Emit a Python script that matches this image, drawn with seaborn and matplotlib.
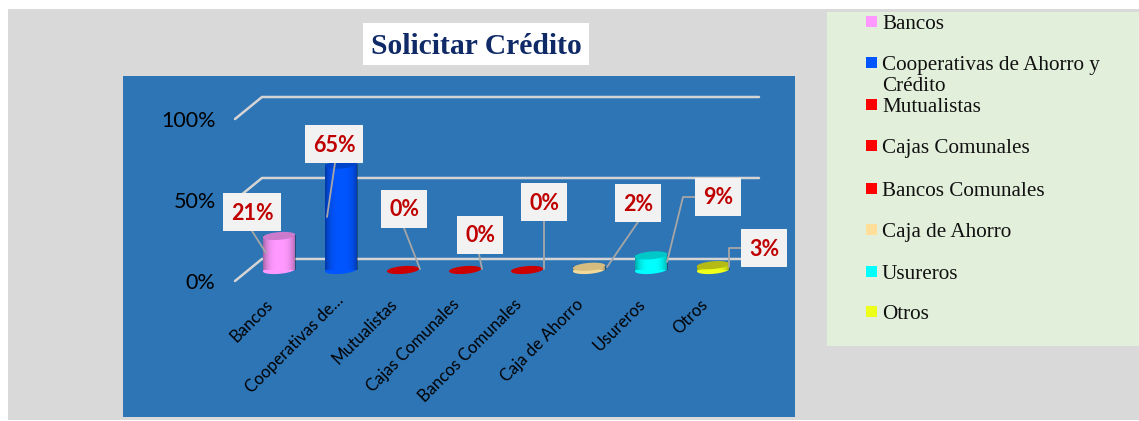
import numpy as np
import pandas as pd
import matplotlib.pyplot as plt
import seaborn as sns
from matplotlib.patches import Rectangle
from matplotlib.lines import Line2D
from matplotlib.transforms import ScaledTranslation

# datos del grafico
categorias = ['Bancos', 'Cooperativas de…', 'Mutualistas', 'Cajas Comunales',
              'Bancos Comunales', 'Caja de Ahorro', 'Usureros', 'Otros']
leyenda = ['Bancos', 'Cooperativas de Ahorro y\nCrédito', 'Mutualistas', 'Cajas Comunales',
           'Bancos Comunales', 'Caja de Ahorro', 'Usureros', 'Otros']
valores = [21, 65, 0, 0, 0, 2, 9, 3]
grid_vals = [0, 50, 100]

colores = ['#ff99ff', '#0055ff', '#ff0000', '#ff0000', '#ff0000', '#ffdf99', '#00ffff', '#eeff1a']
cuerpo = ['#ff99ff', '#0055ff', '#cc0000', '#cc0000', '#cc0000', '#f3d998', '#00ffff', '#eeff1a']
tapa = ['#cc7acc', '#0044cc', '#cc0000', '#cc0000', '#cc0000', '#d4bd7e', '#00c8c8', '#b5bb14']

W, H = 1139, 421
AZUL = '#2e75b6'
GRIS = '#a6a6a6'

# posiciones de etiquetas en pixeles
cajas = [(223, 193, 58), (305, 125, 58), (381, 190, 46), (457, 216, 46),
         (521, 183, 46), (615, 184, 46), (695, 178, 46), (741, 229, 46)]
lineas = [[(252, 231), (266, 253)],
          [(335, 163), (327, 217)],
          [(404, 228), (420, 269)],
          [(479, 254), (482, 269)],
          [(544, 221), (544, 269)],
          [(638, 222), (607, 267)],
          [(695, 197), (683, 197), (667, 262)],
          [(741, 248), (729, 248), (729, 267)]]
leyenda_y = [22, 63, 105, 146, 189, 230, 272, 312]
# desplazamiento de cada etiqueta del eje x, en pixeles
ajuste_x = [-14, -6, -14, -14, -14, -14, -14, -14]
ajuste_y = [0, 4, 0, 0, 0, 0, 0, 0]


def fx(x):
    return x / W


def fy(y):
    return 1 - y / H


def rect_px(x0, y0, x1, y1, color, zorder=0):
    fig.add_artist(Rectangle((fx(x0), fy(y1)), (x1 - x0) / W, (y1 - y0) / H, transform=fig.transFigure,
                             facecolor=color, edgecolor='none', zorder=zorder))


sns.set_theme(style='white')
plt.rcParams['font.family'] = ['Lato', 'DejaVu Sans']

fig = plt.figure(figsize=(W / 100, H / 100), dpi=100, facecolor='white')

# fondos
rect_px(8, 9, 1139, 420, '#d9d9d9', -3)
rect_px(123, 76, 795, 417, AZUL, -2)
rect_px(827, 12, 1139, 346, '#e2efda', -2)
rect_px(363, 23, 589, 65, 'white', -2)

ax = fig.add_axes([fx(235), fy(281), (759 - 235) / W, (281 - 97) / H])
ax.patch.set_alpha(0)

df = pd.DataFrame({'categoria': categorias, 'valor': valores})
sns.barplot(data=df, x='categoria', y='valor', hue='categoria', palette=cuerpo, hue_order=categorias,
            width=0.52, saturation=1, legend=False, linewidth=0, ax=ax)

xlim = (-0.71, 7.74)
ylim = (-6.8, 106.8)
fondo = 6.8

# rejilla con perspectiva
for v in grid_vals:
    ax.plot([xlim[0], xlim[0] + 0.435, xlim[1]], [v - fondo, v + fondo, v + fondo],
            color='#d4d4d4', lw=1.8, zorder=0.5, clip_on=False, solid_capstyle='round')

# cilindros: sombra lateral y elipses
t = np.linspace(0, 2 * np.pi, 80)
sombra = np.zeros((1, 60, 4))
sombra[0, :, 3] = 0.35 * np.abs(np.linspace(-1, 1, 60)) ** 3
for i, v in enumerate(valores):
    ex = i + 0.26 * np.cos(t)
    base = 2.4 * np.sin(t) + 0.8 * np.cos(t)
    if v > 0:
        ax.fill(ex, base, color=cuerpo[i], lw=0, zorder=2, clip_on=False)
        ax.imshow(sombra, extent=[i - 0.26, i + 0.26, 0, v], aspect='auto', zorder=3, clip_on=False)
    ax.fill(ex, base + v, color=tapa[i], lw=0, zorder=4, clip_on=False)

ax.set_xlim(xlim)
ax.set_ylim(ylim)
sns.despine(ax=ax, left=True, bottom=True, top=True, right=True)
ax.set_xlabel('')
ax.set_ylabel('')
ax.set_yticks([v - fondo for v in grid_vals])
ax.set_yticklabels([f'{v}%' for v in grid_vals], fontsize=15.5, color='black')
ax.set_xticks(range(len(categorias)))
ax.set_xticklabels(categorias, fontsize=12, color='black', rotation=45, ha='right', va='top',
                   rotation_mode='anchor')
ax.tick_params(axis='y', length=0, pad=14)
ax.tick_params(axis='x', length=0, pad=11)
for etiqueta, dx, dy in zip(ax.get_xticklabels(), ajuste_x, ajuste_y):
    desplaza = ScaledTranslation(dx / 100, dy / 100, fig.dpi_scale_trans)
    etiqueta.set_transform(etiqueta.get_transform() + desplaza)

# lineas guia y etiquetas
for puntos in lineas:
    xs = [fx(p[0]) for p in puntos]
    ys = [fy(p[1]) for p in puntos]
    fig.add_artist(Line2D(xs, ys, color=GRIS, lw=1.3, zorder=5))
for (x, y, w), v in zip(cajas, valores):
    rect_px(x, y, x + w, y + 38, '#f2f2f2', 6)
    fig.text(fx(x + w / 2), fy(y + 20), f'{v}%', color='#c00000', fontsize=15.5, fontweight='bold',
             ha='center', va='center', zorder=7)

# titulo
fig.text(fx(476), fy(46), 'Solicitar Crédito', family='Liberation Serif', fontweight='bold',
         fontsize=21.3, color='#0f2a66', ha='center', va='center', zorder=7)

# leyenda
for nombre, color, y in zip(leyenda, colores, leyenda_y):
    rect_px(866, y - 6, 877, y + 5, color, 6)
    fig.text(fx(882), fy(y - 7), nombre, family='Liberation Serif', fontsize=15.2, color='#111111',
             ha='left', va='top', linespacing=1.15, zorder=7)

fig.savefig('out.png', dpi=100)
